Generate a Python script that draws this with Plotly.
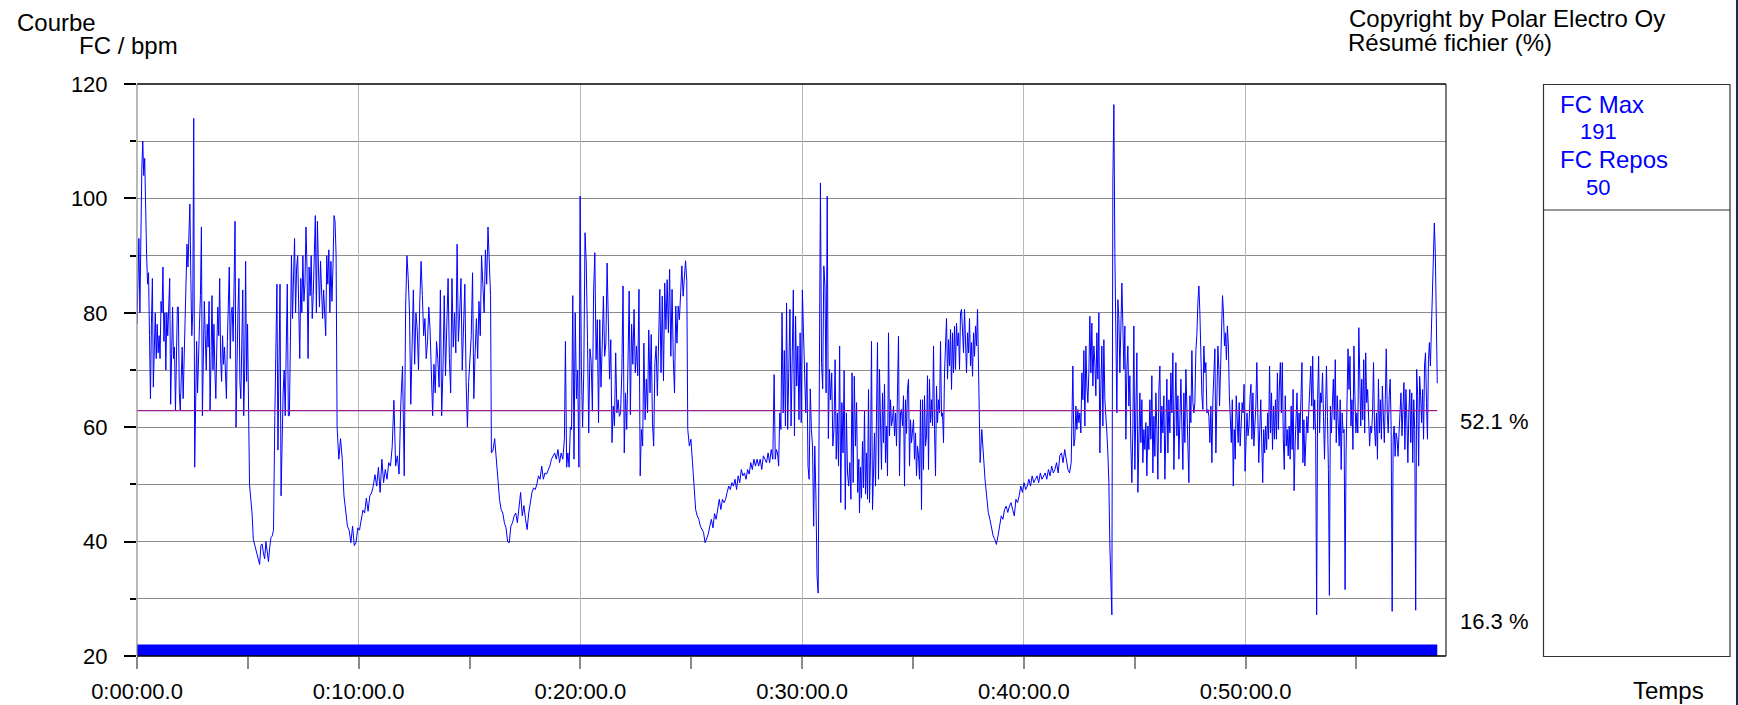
import numpy as np
import plotly.graph_objects as go

# ---------------- data (heart rate, bpm) ----------------
# each part: (start_s, end_s) and the bpm samples read along that stretch
part_bounds_s = [(0, 301.8), (304.5, 369.4), (373, 538.8), (541.5, 723.2), (727, 956.8),
                 (959.1, 1156.7), (1159.4, 1487.8), (1490.5, 1720.6), (1724.2, 1953.4),
                 (1955.2, 2185.3), (2188, 2274.6), (2277.3, 2528.1), (2532.6, 2927.8),
                 (2929.6, 3518.8)]

hr_p01 = [78, 86, 93, 80, 100, 105, 110, 104, 107, 97, 90, 85, 87, 76, 65, 78, 86, 67, 75, 80,
          72, 78, 73, 76, 72, 82, 80, 88, 75, 80, 70, 80, 76, 83, 86, 64, 74, 81, 72, 74,
          63, 72, 81, 81, 66, 63, 70, 74, 65, 72, 77, 81, 92, 88, 96, 99, 86, 76, 80, 114,
          53, 71, 75, 66, 74, 78, 83, 95, 62, 72, 82, 76, 70, 78, 74, 82, 63, 72, 83, 70,
          78, 70, 65, 74, 81, 76, 86, 72, 68, 76, 71, 74, 67, 65, 75, 80, 88, 72, 80, 81,
          75, 85, 96, 60, 72, 80, 86, 68, 65, 75, 84, 62, 70, 89, 68, 78, 62]
hr_p02 = [50, 47.5, 45, 40.4, 39.5, 38.5, 37.5, 36.5, 36, 39.3, 39.6, 38, 37, 40, 38, 36.5,
          39, 40.7, 41, 42]
hr_p03 = [62, 74, 85, 56, 70, 85, 48, 58, 66, 70, 62, 74, 85, 62, 62, 75, 90, 79, 86, 93,
          80, 88, 90, 83, 72, 86, 80, 90, 82, 85, 95, 88, 72, 88, 83, 90, 79, 83, 92, 97,
          80, 96, 88, 81, 89, 85, 79, 84, 78, 76, 90, 85, 91, 80, 89, 82, 88, 97, 96, 90]
hr_p04 = [60, 54.4, 58, 54.4, 48, 45.6, 42.7, 42, 39.8, 42.7, 39.3, 39.8, 42.4, 42, 43.8,
          45.5, 45, 47.6, 45.3, 48, 48.5, 49.7, 51.7, 49.7, 53, 48.6, 54.4, 50.3, 52.6, 50.9,
          53.8, 53.2, 56.6, 64.7, 53.2, 55, 51.8, 64.1, 70.7, 51.5]
hr_p05 = [81, 90, 86, 80, 64, 75, 84, 71, 80, 77, 70, 82, 89, 83, 76, 79, 72, 75, 81, 77,
          69, 62, 71, 66, 75, 72, 67, 84, 62, 70, 83, 69, 78, 86, 72, 66, 86, 74, 80, 73,
          92, 75, 80, 86, 70, 78, 85, 68, 60, 68, 72, 76, 87, 65, 73, 79, 72, 82, 76, 90,
          85, 80, 91, 85, 95, 88, 83]
hr_p06 = [55.5, 56, 58, 54, 49.7, 47.4, 45.6, 45, 43.3, 42.4, 40, 39.8, 42.7, 43.3, 44.5,
          45, 43.3, 46.7, 48.6, 44.5, 46.3, 44, 42.1, 45, 46.7, 48.6, 49.4, 49.1, 50, 51.5,
          50.9, 53.2, 50.9, 52, 51.8, 52.6, 53.2, 54.4, 55, 55.5, 54.4, 56.1, 53.8, 55.5,
          54.4, 58]
hr_p07 = [75, 53, 55.5, 53, 60, 59.6, 83, 54.4, 80, 65, 70, 53, 100.4, 70.4, 60, 70, 94,
          88.7, 75.3, 59, 73.7, 71.5, 62.8, 83.8, 90.5, 71.8, 78.8, 60.8, 78.8, 67, 74.2,
          82.9, 72.4, 74.7, 88.7, 75.3, 68.4, 75.3, 57.3, 63.7, 60.2, 73, 62.5, 64.8, 61.9,
          62.5, 69.5, 84.7, 55.5, 66, 59.6, 70.7, 83.8, 62.2, 78, 71, 80.6, 69.5, 74.2, 69,
          84.1, 51.5, 59.6, 56.7, 74.7, 61.3, 68.4, 62.5, 77, 66, 76.2, 60.8, 56.7, 71.3,
          74.2, 65.5, 77.1, 84.1, 69.5, 82.9, 68.1, 85.2, 77.1, 85.8, 76.5, 87.6, 72.4, 84.1,
          72, 66, 81.2, 74.7, 81.2, 78.8, 83.5, 88.2, 82.9, 86.4, 89.1, 85.6]
hr_p08 = [59.6, 56.7, 57.9, 53.8, 49.7, 45.6, 44.5, 43.9, 42.7, 42.1, 41.6, 39.8, 40.4, 41.3,
          42.7, 43.9, 42.4, 44.9, 43.9, 45.6, 47.4, 45.6, 47.4, 46.8, 47.4, 48.6, 49.7, 49.1,
          50.3, 49.7, 50.9, 49.1, 51.5, 50.3, 52.6, 51.5, 52, 50.9, 52.6, 51.8, 53.8, 52.6,
          54.4, 53.2, 54.4, 53.2, 54.4, 52.6, 55, 54.4, 53.8, 55.5, 53.8, 56.1, 54.4]
hr_p09 = [69.2, 54.4, 56.1, 55.5, 53.2, 62.5, 59.6, 80, 62.5, 73.4, 60.2, 81.7, 59.6, 72.4,
          80.6, 60.2, 75.8, 84, 58.5, 79.4, 67.2, 74.2, 61.3, 76.5, 60.8, 84, 76.5, 68.4,
          62.5, 71.3, 53.2, 50.9, 66.7, 59.6, 56.7, 42.7, 56.7, 48, 34, 31, 75.3, 102.7,
          71.3, 66.7, 88.2, 84.7, 66, 100.4, 58, 70.1, 64.8, 69.5, 56.7, 59.6, 71.8, 54.4,
          62.5, 53.2, 74.2, 46.8, 64.3, 55.5, 69.9, 45.6, 62.5, 52, 49.7, 53.8, 47.4, 69.5,
          50.3, 68.9, 56.7, 64.3, 48.6, 54.4]
hr_p10 = [45, 53, 47.6, 57.5, 49.4, 63, 48.3, 55.5, 47.4, 66.6, 46.8, 54.4, 75, 45.6, 52, 59,
          49.7, 64.8, 74.8, 50.9, 70.1, 60.8, 52.6, 66, 57.3, 67.5, 53.8, 60.2, 51.5, 76.5,
          58.5, 64.8, 60.2, 61.3, 63.7, 58.5, 62.5, 56.7, 63.7, 75.9, 51.5, 62.5, 63.1, 60.2,
          65.5, 49.7, 64.8, 58.9, 66.6, 68.4, 53.2, 61.3, 57.3, 59.6, 61.3, 54.4, 59, 51.5,
          56.7, 55, 50.9, 64.8, 45.6, 64.8, 52.6, 65.5, 56.7, 58.5, 69, 52.6, 68.4, 60.8,
          64.8, 60.2, 74.2, 59.6, 51.5, 67.2, 60.8, 64.8, 62.5, 75, 61.9, 62.5, 57.3, 69.5]
hr_p11 = [76.5, 79, 68.4, 75.3, 70.7, 77.1, 66.6, 76.5, 69.5, 77.7, 70.1, 78.2, 74.2, 76.5,
          70.1, 80, 80.6, 76.5, 73, 80.6, 76.5, 69.5, 76.5, 73, 79, 70.7, 74.8, 68.9, 76.5,
          72.4, 77.7, 74.2, 80.6]
hr_p12 = [66.6, 53.8, 59.6, 55, 50.9, 48, 45.1, 43.9, 42.1, 41, 40.4, 39.5, 41, 42.7, 44.5,
          43.9, 45.6, 46.2, 45.1, 46.2, 46.8, 45.6, 44.5, 47.4, 46.8, 48, 49.7, 48.6, 50.3,
          49.1, 49.7, 50.9, 49.7, 51.5, 50.3, 50.9, 51.5, 50.3, 52, 50.9, 51.5, 52, 50.9,
          52.6, 51.5, 53.2, 52, 52.6, 53.8, 52, 55, 55.5, 53.8, 56.1, 54.4, 52.6, 52, 53.8]
hr_p13 = [70.7, 56.7, 57.9, 63.7, 59.6, 63.1, 60.8, 62.5, 59, 69.5, 64.8, 73.4, 60.2, 74.2,
          67.2, 64.3, 69.5, 79.4, 69.5, 78.2, 67.2, 74.2, 71.3, 65.5, 76.5, 68.4, 80, 55.5,
          67.2, 74.2, 60.2, 75.3, 64.8, 60.2, 59, 55.5, 50.3, 39.2, 33, 27.2, 103, 116.4,
          90.5, 69.5, 62.5, 82.3, 79, 69.5, 81.2, 85.2, 77.7, 70.1, 77.7, 57.9, 70.1, 74.2,
          63.7, 69, 56.7, 50.3, 59.6, 77.7, 52.6, 61.9, 73, 48.6, 62.5, 66, 57.3, 64.8, 53.8,
          59.6, 56.1, 60.8, 51.5, 60.2, 56.1, 64.8, 57.9, 69, 52, 61.9, 54.9, 66, 59.6, 50.9,
          66.6, 70.7, 55.5, 63.7, 59, 65.5, 50.9, 62.5, 68.4, 55.5, 64.8, 59, 69.5, 62.5, 73,
          52.6, 61.9, 71.3, 58.5, 65.5, 54.4, 62.5, 68.4, 60.2, 52.6, 66, 57.3, 70.1, 63.1,
          57.3, 50.3, 65.5, 60.8, 73.4, 64.3, 62.5, 64.3, 73.4, 76.2, 81.8, 84.7, 80, 72.4,
          65.5, 63.1, 74.2, 69.5, 71.3, 62.5, 63.1, 61.9, 57.3, 63.7, 53.8, 64.8, 71.3, 73.7,
          55.5, 67.2, 74.2, 70.1]
hr_p14 = [63.7, 70.1, 76.5, 83, 80, 74.2, 76.5, 71.8, 77.7, 74.2, 65.5, 59.6, 57.3, 64.8,
          49.7, 59.6, 54.4, 65.5, 59.6, 57.3, 64.3, 56.7, 60.2, 64.3, 62.5, 67.5, 52.3, 59,
          62.5, 58.5, 60.2, 64.8, 67.5, 57.9, 66, 56.7, 59.6, 63.7, 71.3, 64.8, 53.8, 59.6,
          64.8, 57.3, 50.3, 59.6, 55.5, 60.2, 56.1, 62.5, 57.9, 70.7, 59, 66, 56.1, 63.7,
          57.9, 64.8, 57.9, 69.5, 59.6, 67.2, 71.3, 62.5, 71.3, 57.9, 52.6, 65.5, 56.7, 59.6,
          55, 60.2, 54.4, 63.7, 56.1, 66.6, 48.9, 56.7, 61.9, 66, 56.1, 62.5, 59, 64.8, 71.3,
          53.8, 61.3, 53.2, 60.2, 61.9, 59, 62.5, 64.8, 70.7, 63.7, 72.4, 59.6, 64.8, 58.5,
          27.2, 64.8, 72.4, 59, 66, 64.3, 69.5, 61.9, 54.4, 62.5, 70.7, 61.9, 52.6, 30.6,
          63.7, 59, 64.8, 68.4, 61.3, 71.8, 57.3, 65.5, 60.8, 56.7, 64.8, 52.6, 62.5, 59,
          59.6, 31.6, 55.5, 69.5, 73.7, 66.6, 72.4, 60.2, 64.8, 56.1, 74.2, 65.5, 59, 62.5,
          59, 77.4, 64.8, 60.2, 68.4, 61.3, 71.8, 59, 73, 64.3, 66.6, 61.9, 56.7, 60.2, 59,
          62.5, 71.3, 60.2, 56.7, 62.5, 54.4, 68.4, 59, 64.8, 57.9, 67.2, 61.3, 57.3, 64.8,
          73.7, 62.5, 59, 65.5, 68.4, 59.6, 27.8, 57.9, 60.2, 54.9, 59, 57.9, 54.9, 59, 62.5,
          66, 58.5, 63.1, 67.8, 56.1, 66.6, 61.3, 53.8, 62.5, 66.6, 57.3, 66, 53.8, 64.8,
          59.6, 28, 70.1, 65.5, 53.2, 68.9, 65.5, 60.8, 66.6, 57.9, 70.7, 73, 64.3, 57.9,
          71.8, 74.8, 70.7, 77.1, 80.6, 88.2, 95.7, 90.5, 77.1, 67.7]

hr_parts = [hr_p01, hr_p02, hr_p03, hr_p04, hr_p05, hr_p06, hr_p07, hr_p08, hr_p09,
            hr_p10, hr_p11, hr_p12, hr_p13, hr_p14]

zone_line_bpm = 62.9          # purple reference line
bottom_band_bpm = (20, 22)    # blue band along the time axis
fc_max = 191
fc_repos = 50
pct_upper = "52.1 %"
pct_lower = "16.3 %"
x_tick_minutes = [0, 10, 20, 30, 40, 50]

# ---------------- build series ----------------
t_min, hr = [], []
for (s0, s1), vals in zip(part_bounds_s, hr_parts):
    ts = np.linspace(s0, s1, len(vals)) / 60.0
    t_min.extend(ts.tolist())
    hr.extend(vals)


def fmt(m):
    h = int(m // 60)
    mm = int(m % 60)
    return f"{h}:{mm:02d}:00.0"


# ---------------- layout geometry (pixels) ----------------
W, H = 1738, 705
L, R, T, B = 137, 1446, 84, 656
PW, PH = R - L, B - T


def px(x):
    return (x - L) / PW


def py(y):
    return (B - y) / PH


FONT = "Liberation Sans, Arial, sans-serif"

fig = go.Figure()
fig.add_trace(go.Scatter(x=t_min, y=hr, mode="lines",
                         line=dict(color="#0000ff", width=1), hoverinfo="skip",
                         showlegend=False))

shapes = []
# blue band at the bottom
shapes.append(dict(type="rect", xref="x", yref="y", x0=t_min[0], x1=t_min[-1],
                   y0=bottom_band_bpm[0], y1=bottom_band_bpm[1],
                   fillcolor="#0000ff", line=dict(width=0), layer="above"))
# purple line
shapes.append(dict(type="line", xref="x", yref="y", x0=t_min[0], x1=t_min[-1],
                   y0=zone_line_bpm, y1=zone_line_bpm,
                   line=dict(color="#9b1b8f", width=1.2), layer="above"))
# frame of the plot
shapes.append(dict(type="line", xref="paper", yref="paper", x0=0, x1=1, y0=1, y1=1,
                   line=dict(color="black", width=1.5)))
shapes.append(dict(type="line", xref="paper", yref="paper", x0=0, x1=1, y0=0, y1=0,
                   line=dict(color="black", width=1.5)))
shapes.append(dict(type="line", xref="paper", yref="paper", x0=1, x1=1, y0=0, y1=1,
                   line=dict(color="#222222", width=1.2)))
shapes.append(dict(type="line", xref="paper", yref="paper", x0=0, x1=0, y0=0, y1=1,
                   line=dict(color="#8a8a8a", width=1.2)))
# right info box
shapes.append(dict(type="rect", xref="paper", yref="paper", x0=px(1543.5), x1=px(1730),
                   y0=py(656.5), y1=py(84.5), line=dict(color="#333333", width=1.2)))
shapes.append(dict(type="line", xref="paper", yref="paper", x0=px(1543.5), x1=px(1730),
                   y0=py(210), y1=py(210), line=dict(color="#333333", width=1.2)))
# window edge
shapes.append(dict(type="line", xref="paper", yref="paper", x0=px(1737), x1=px(1737),
                   y0=py(705), y1=py(0), line=dict(color="#1c2a5c", width=2)))


def ann(text, x, y, size=24, color="black"):
    return dict(text=text, xref="paper", yref="paper", x=px(x), y=py(y),
                xanchor="left", yanchor="middle", showarrow=False,
                font=dict(family=FONT, size=size, color=color))


annotations = [
    ann("Courbe", 15, 22.5),
    ann("FC / bpm", 77, 45),
    ann("Copyright by Polar Electro Oy", 1347, 18.5),
    ann("Résumé fichier (%)", 1346, 42),
    ann("FC Max", 1558, 105, color="#0000ff"),
    ann(f"{fc_max}", 1578, 131, size=22, color="#0000ff"),
    ann("FC Repos", 1558, 159, color="#0000ff"),
    ann(f"{fc_repos}", 1584, 188, size=22, color="#0000ff"),
    ann(pct_upper, 1458, 421, size=22),
    ann(pct_lower, 1458, 621, size=22),
    ann("Temps", 1631, 690),
]

fig.update_layout(
    width=W, height=H,
    margin=dict(l=L, r=W - R, t=T, b=H - B, pad=0, autoexpand=False),
    paper_bgcolor="white", plot_bgcolor="white",
    font=dict(family=FONT, size=22, color="black"),
    shapes=shapes, annotations=annotations,
    showlegend=False,
)
fig.update_xaxes(range=[0, 59.04], tickmode="array", tickvals=x_tick_minutes,
                 ticktext=[fmt(m) for m in x_tick_minutes], automargin=False,
                 ticks="outside", ticklen=12, tickcolor="#8a8a8a", tickwidth=1.5,
                 showgrid=True, gridcolor="#b8b8b8", gridwidth=1.2,
                 zeroline=False, showline=False,
                 minor=dict(dtick=5, ticks="outside", ticklen=12, tickcolor="#8a8a8a",
                            tickwidth=1.5, showgrid=False),
                 ticklabelstandoff=4,
                 tickfont=dict(family=FONT, size=22, color="black"))
fig.update_yaxes(range=[20, 120], dtick=20, tick0=20, automargin=False,
                 ticks="outside", ticklen=12, tickcolor="black", tickwidth=1.5,
                 showgrid=True, gridcolor="#8c8c8c", gridwidth=1.2,
                 zeroline=False, showline=False,
                 minor=dict(dtick=10, ticks="outside", ticklen=6, tickcolor="black",
                            tickwidth=1.5, showgrid=True, gridcolor="#8c8c8c", gridwidth=1.2),
                 ticklabelstandoff=12,
                 tickfont=dict(family=FONT, size=22, color="black"))

fig.write_html("out.html", config={"displayModeBar": False},
               post_script="document.body.style.margin='0';document.body.style.overflow='hidden';")
